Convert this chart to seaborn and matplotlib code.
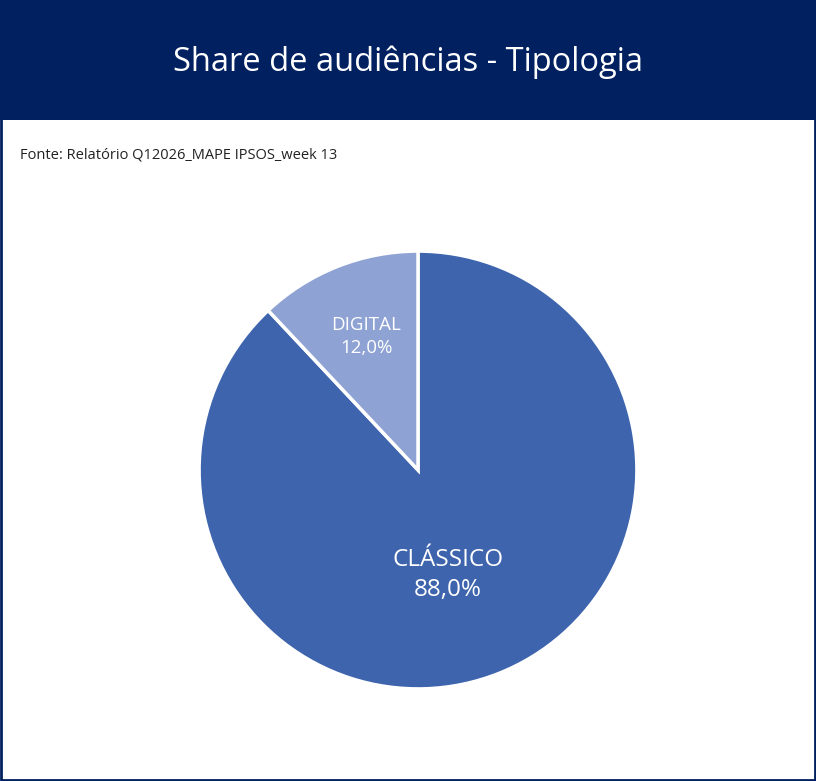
import matplotlib
matplotlib.use("Agg")
import matplotlib.pyplot as plt
import seaborn as sns
from matplotlib.patches import Rectangle

sns.set_theme(style="white")
plt.rcParams['font.family'] = ['Open Sans', 'DejaVu Sans']

# data
categories = ["CLÁSSICO", "DIGITAL"]
shares = [88.0, 12.0]
colors = ["#3D64AC", "#8EA2D3"]
title = "Share de audiências - Tipologia"
source = "Fonte: Relatório Q12026_MAPE IPSOS_week 13"

fig = plt.figure(figsize=(8.16, 7.81), dpi=100)
fig.patch.set_facecolor("white")

# header band and border
fig.add_artist(Rectangle((0, 1 - 120 / 781), 1, 120 / 781, transform=fig.transFigure,
                         facecolor="#002060", edgecolor="none"))
fig.add_artist(Rectangle((0.001, 0.001), 0.998, 0.998, transform=fig.transFigure,
                         facecolor="none", edgecolor="#002060", linewidth=2))
fig.text(0.5, 1 - 62 / 781, title, color="white", fontsize=23.5, ha="center", va="center")
fig.text(20 / 816, 1 - 155 / 781, source, color="#222222", fontsize=10.5, ha="left", va="center")

ax = fig.add_axes([198 / 816, 91 / 781, 440 / 816, 440 / 781])
wedges, _ = ax.pie(shares, colors=colors, startangle=90, counterclock=False,
                   wedgeprops=dict(edgecolor="white", linewidth=2.5))
ax.set_xlim(-1.005, 1.005)
ax.set_ylim(-1.005, 1.005)
ax.set_aspect("equal")

label_pos = [(0.136, -0.48), (-0.236, 0.61)]
label_size = [17.5, 13.5]
for cat, val, (x, y), fs in zip(categories, shares, label_pos, label_size):
    ax.text(x, y, f"{cat}\n{val:.1f}%".replace(".", ","), color="white", fontsize=fs,
            ha="center", va="center", linespacing=1.3)

fig.savefig("out.png", dpi=100)
